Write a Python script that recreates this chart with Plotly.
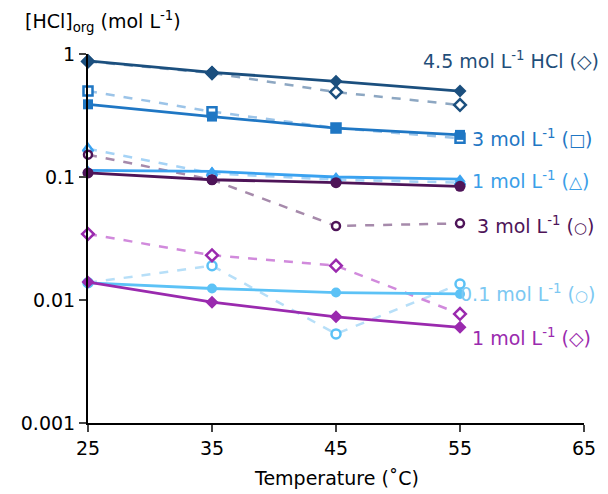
import plotly.graph_objects as go

temps = [25, 35, 45, 55]

hcl45_solid = [0.88, 0.71, 0.60, 0.50]
hcl45_dash = [0.87, 0.70, 0.49, 0.385]
hcl3sq_solid = [0.39, 0.31, 0.25, 0.22]
hcl3sq_dash = [0.50, 0.34, 0.25, 0.207]
hcl1tri_solid = [0.113, 0.111, 0.100, 0.096]
hcl1tri_dash = [0.17, 0.107, 0.095, 0.090]
hcl3circ_solid = [0.108, 0.095, 0.090, 0.084]
hcl3circ_dash = [0.152, 0.095, 0.040, 0.042]
hcl01_solid = [0.0138, 0.0124, 0.0115, 0.0112]
hcl01_dash = [0.0138, 0.019, 0.0053, 0.0135]
hcl1dia_solid = [0.0140, 0.0096, 0.0073, 0.0060]
hcl1dia_dash = [0.0344, 0.0231, 0.019, 0.0077]

y_tickvals = [0.001, 0.01, 0.1, 1]
y_ticktext = ["0.001", "0.01", "0.1", "1"]
x_tickvals = [25, 35, 45, 55, 65]

def sym(ch, size=17):
    return '<span style="font-size:%dpx">%s</span>' % (size, ch)

# (text, colour, paper-x, log10 y, anchor)
labels = [
    ("4.5 mol L<sup>-1</sup> HCl (◇)", "#1F4E79", (605 - 88) / 500, -0.046, "right"),
    ("3 mol L<sup>-1</sup> (" + sym("□") + ")", "#1F77C4", (473 - 88) / 500, -0.680, "left"),
    ("1 mol L<sup>-1</sup> (" + sym("△") + ")", "#3A9EE8", (473 - 88) / 500, -1.022, "left"),
    ("3 mol L<sup>-1</sup> (" + sym("○", 15) + ")", "#4E1458", (478 - 88) / 500, -1.388, "left"),
    ("0.1 mol L<sup>-1</sup> (" + sym("○", 15) + ")", "#7CC8F2", (461 - 88) / 500, -1.940, "left"),
    ("1 mol L<sup>-1</sup> (◇)", "#9A2AAE", (473 - 88) / 500, -2.298, "left"),
]

FONT = "DejaVu Sans"
FS = 19

fig = go.Figure()

def add(y, color, edge, symbol, dashed, size=10):
    if dashed:
        fig.add_trace(go.Scatter(
            x=temps, y=y, mode="lines+markers", cliponaxis=False,
            line=dict(color=color, width=2.5, dash="dash"),
            marker=dict(symbol=symbol, size=size - 1, color="white",
                        line=dict(color=edge, width=2.5)),
            showlegend=False))
    else:
        fig.add_trace(go.Scatter(
            x=temps, y=y, mode="lines+markers", cliponaxis=False,
            line=dict(color=color, width=2.8),
            marker=dict(symbol=symbol, size=size, color=color),
            showlegend=False))

# dashed (open markers)
add(hcl45_dash, "#8DA7C2", "#1B4F7E", "diamond", True)
add(hcl3sq_dash, "#9CC4E8", "#1F77C4", "square", True)
add(hcl1tri_dash, "#A5D3F6", "#3AA2F0", "triangle-up", True)
add(hcl3circ_dash, "#A68AAB", "#4E1458", "circle", True, size=9)
add(hcl01_dash, "#B7DFF8", "#5CC2F6", "circle", True)
add(hcl1dia_dash, "#D18ADC", "#9A2AAE", "diamond", True)

# solid
add(hcl45_solid, "#1B4F7E", None, "diamond", False)
add(hcl3sq_solid, "#1F77C4", None, "square", False)
add(hcl1tri_solid, "#3AA2F0", None, "triangle-up", False)
add(hcl3circ_solid, "#4E1458", None, "circle", False, size=11)
add(hcl01_solid, "#5CC2F6", None, "circle", False)
add(hcl1dia_solid, "#9A2AAE", None, "diamond", False)

for text, color, x, y, anchor in labels:
    fig.add_annotation(x=x, y=y, xref="paper", yref="y", text=text, showarrow=False,
                       xanchor=anchor, yanchor="middle",
                       font=dict(family=FONT, size=FS, color=color))

fig.add_annotation(x=(22 - 88) / 500, y=(423 - 21) / 369, xref="paper", yref="paper",
                   text="[HCl]<sub>org</sub> (mol L<sup>-1</sup>)", showarrow=False,
                   xanchor="left", yanchor="middle",
                   font=dict(family=FONT, size=FS, color="black"))
fig.add_annotation(x=0.5, y=(423 - 478) / 369, xref="paper", yref="paper",
                   text="Temperature (˚C)", showarrow=False,
                   xanchor="center", yanchor="middle",
                   font=dict(family=FONT, size=FS, color="black"))

fig.update_layout(
    width=608, height=494,
    margin=dict(l=88, r=20, t=54, b=71),
    plot_bgcolor="white", paper_bgcolor="white",
    font=dict(family=FONT, size=FS, color="black"),
    xaxis=dict(range=[25, 65], tickvals=x_tickvals, ticks="outside", ticklen=7,
               tickwidth=2, showline=True, linecolor="black", linewidth=2,
               showgrid=False, zeroline=False, tickfont=dict(size=FS)),
    yaxis=dict(type="log", range=[-3, 0], tickvals=y_tickvals, ticktext=y_ticktext,
               ticks="outside", ticklen=7, tickwidth=2, showline=True,
               linecolor="black", linewidth=2, showgrid=False, zeroline=False,
               tickfont=dict(size=FS)),
)

fig.write_html("out.html", config={"displayModeBar": False},
               post_script="document.body.style.margin='0';document.body.style.padding='0';")
